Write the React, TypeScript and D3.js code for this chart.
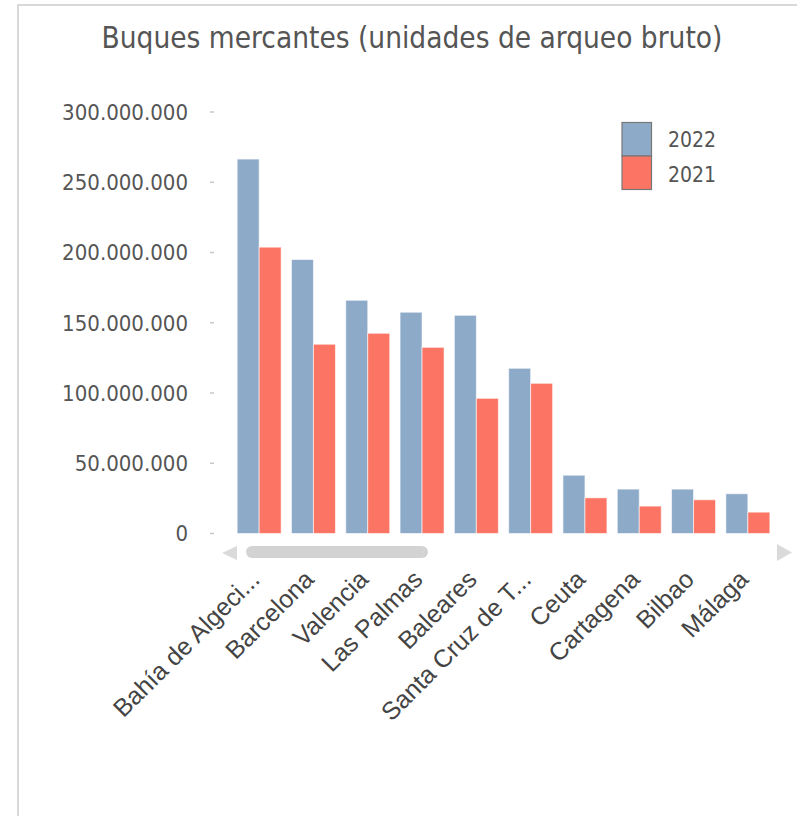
import React, { useEffect, useRef } from 'react';
import * as d3 from 'd3';

const ports = [
  'Bahía de Algeci...',
  'Barcelona',
  'Valencia',
  'Las Palmas',
  'Baleares',
  'Santa Cruz de T...',
  'Ceuta',
  'Cartagena',
  'Bilbao',
  'Málaga',
];
const values2022 = [266500000, 195000000, 166000000, 157500000, 155300000, 117600000, 41500000, 31600000, 31600000, 28300000];
const values2021 = [203800000, 134700000, 142500000, 132500000, 96200000, 106900000, 25400000, 19500000, 24000000, 15200000];
const yTicks = [0, 50000000, 100000000, 150000000, 200000000, 250000000, 300000000];
const seriesNames = ['2022', '2021'];
const seriesColors = ['#8eaac9', '#fc7463'];

const W = 797;
const H = 816;
const condensed = '"DejaVu Sans Condensed", "DejaVu Sans", sans-serif';

const App: React.FC = () => {
  const svgRef = useRef<SVGSVGElement | null>(null);

  useEffect(() => {
    const svg = d3.select(svgRef.current);
    svg.selectAll('*').remove();

    // frame
    svg.append('path')
      .attr('d', `M18,${H} L18,5 L${W},5`)
      .attr('fill', 'none')
      .attr('stroke', '#d9d9d9')
      .attr('stroke-width', 2);

    // title
    svg.append('text')
      .attr('x', 412)
      .attr('y', 48)
      .attr('text-anchor', 'middle')
      .attr('font-family', condensed)
      .attr('font-stretch', 'condensed')
      .attr('font-size', 29.5)
      .attr('fill', '#555')
      .text('Buques mercantes (unidades de arqueo bruto)');

    const y = d3.scaleLinear().domain([0, 300000000]).range([533.5, 112]);
    const x0 = d3.scaleBand<string>().domain(ports).range([232, 775]).paddingInner(0.19).paddingOuter(0.095);
    const x1 = d3.scaleBand<string>().domain(seriesNames).range([0, x0.bandwidth()]);

    const fmt = (v: number) => d3.format(',')(v).replace(/,/g, '.');

    // y axis: labels and small tick dashes
    const yAxis = svg.append('g');
    yAxis.selectAll('line')
      .data(yTicks)
      .join('line')
      .attr('x1', 210)
      .attr('x2', 214)
      .attr('y1', (d) => y(d))
      .attr('y2', (d) => y(d))
      .attr('stroke', '#c8c8c8')
      .attr('stroke-width', 1.5);
    yAxis.selectAll('text')
      .data(yTicks)
      .join('text')
      .attr('x', 188)
      .attr('y', (d) => y(d))
      .attr('dy', '0.36em')
      .attr('text-anchor', 'end')
      .attr('font-family', condensed)
      .attr('font-stretch', 'condensed')
      .attr('font-size', 22)
      .attr('fill', '#555')
      .text((d) => fmt(d));

    // bars
    const table = ports.map((p, i) => ({ port: p, values: [values2022[i], values2021[i]] }));
    const groups = svg.append('g')
      .selectAll('g')
      .data(table)
      .join('g')
      .attr('transform', (d) => `translate(${x0(d.port)},0)`);
    groups.selectAll('rect')
      .data((d) => d.values.map((v, i) => ({ key: seriesNames[i], v, i })))
      .join('rect')
      .attr('x', (d) => x1(d.key)!)
      .attr('y', (d) => y(d.v))
      .attr('width', x1.bandwidth())
      .attr('height', (d) => y(0) - y(d.v))
      .attr('fill', (d) => seriesColors[d.i])
      .attr('stroke', 'rgba(255,255,255,0.6)')
      .attr('stroke-width', 1);

    // scroll bar
    svg.append('path').attr('d', 'M237,546 L222,553 L237,560 Z').attr('fill', '#dadada');
    svg.append('rect')
      .attr('x', 246).attr('y', 546).attr('width', 182).attr('height', 12)
      .attr('rx', 6).attr('fill', '#d3d3d3');
    svg.append('path').attr('d', 'M777,544 L792,552.5 L777,561 Z').attr('fill', '#dadada');

    // x labels
    svg.append('g')
      .selectAll('text')
      .data(ports)
      .join('text')
      .attr('transform', (d) => `translate(${x0(d)! + x0.bandwidth() / 2 + 2},${581}) rotate(-45)`)
      .attr('text-anchor', 'end')
      .attr('font-family', '"Liberation Sans", Arial, sans-serif')
      .attr('font-size', 25)
      .attr('fill', '#444')
      .text((d) => d);

    // legend
    const legend = svg.append('g');
    seriesNames.forEach((name, i) => {
      legend.append('rect')
        .attr('x', 622)
        .attr('y', 122.5 + i * 33.5)
        .attr('width', 29.5)
        .attr('height', 33.5)
        .attr('fill', seriesColors[i])
        .attr('stroke', '#777')
        .attr('stroke-width', 1.2);
      legend.append('text')
        .attr('x', 668)
        .attr('y', 147.3 + i * 34.4)
        .attr('font-family', condensed)
        .attr('font-stretch', 'condensed')
        .attr('font-size', 21)
        .attr('fill', '#555')
        .text(name);
    });
  }, []);

  return (
    <div style={{ position: 'absolute', left: 0, top: 0 }}>
      <svg ref={svgRef} width={W} height={H} style={{ display: 'block' }}></svg>
    </div>
  );
};

export default App;
